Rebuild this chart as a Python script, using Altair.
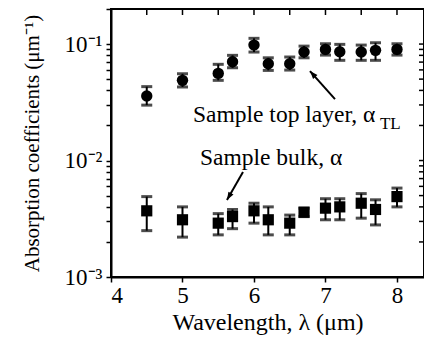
import altair as alt
import pandas as pd

# ---- data ----
wavelength = [4.5, 5.0, 5.5, 5.7, 6.0, 6.2, 6.5, 6.7, 7.0, 7.2, 7.5, 7.7, 8.0]

top_alpha = [0.0358, 0.0488, 0.0560, 0.0705, 0.0980, 0.0678, 0.0678, 0.0854, 0.0900, 0.0859, 0.0854, 0.0883, 0.0900]
top_low   = [0.0299, 0.0428, 0.0488, 0.0626, 0.0854, 0.0594, 0.0598, 0.0762, 0.0804, 0.0725, 0.0725, 0.0725, 0.0804]
top_high  = [0.0431, 0.0556, 0.0670, 0.0800, 0.1120, 0.0762, 0.0774, 0.0960, 0.1006, 0.0994, 0.0980, 0.1026, 0.1006]

bulk_alpha = [0.0037, 0.0031, 0.0029, 0.0033, 0.0037, 0.0031, 0.0029, 0.0036, 0.0039, 0.0040, 0.0043, 0.0038, 0.0049]
bulk_low   = [0.0025, 0.0022, 0.0023, 0.0026, 0.0029, 0.0023, 0.0023, 0.0033, 0.0031, 0.0031, 0.0032, 0.0028, 0.0040]
bulk_high  = [0.0049, 0.0040, 0.0035, 0.0038, 0.0043, 0.0040, 0.0034, 0.0039, 0.0047, 0.0047, 0.0052, 0.0046, 0.0058]

x_ticks = [4.0, 4.5, 5.0, 5.5, 6.0, 6.5, 7.0, 7.5, 8.0]
y_ticks = [m * 10.0 ** e for e in (-3, -2, -1) for m in range(1, 10) if m * 10.0 ** e <= 0.2]

# annotations: label text, anchor position
ann_text = ["Sample top layer, α", "Sample bulk, α"]
ann_x = [5.147, 5.245]
ann_y = [0.0214, 0.00915]
sub_text = ["TL"]
sub_x = [7.762]
sub_y = [0.0186]

# arrows: tail -> head
arr_x1 = [7.133, 5.846]
arr_y1 = [0.0337, 0.00796]
arr_x2 = [6.783, 5.622]
arr_y2 = [0.0586, 0.00458]
arr_angle = [318, 210]

FONT = "Liberation Serif"
W, H = 313, 268
XMAX = 8.378

top_df = pd.DataFrame({"x": wavelength, "y": top_alpha, "lo": top_low, "hi": top_high})
bulk_df = pd.DataFrame({"x": wavelength, "y": bulk_alpha, "lo": bulk_low, "hi": bulk_high})
ann_df = pd.DataFrame({"x": ann_x, "y": ann_y, "t": ann_text})
sub_df = pd.DataFrame({"x": sub_x, "y": sub_y, "t": sub_text})
arr_df = pd.DataFrame({"x": arr_x1, "y": arr_y1, "x2": arr_x2, "y2": arr_y2, "a": arr_angle})
xt_df = pd.DataFrame({"x": x_ticks[1:]})
yt_df = pd.DataFrame({"y": y_ticks})

xscale = alt.Scale(domain=[4, XMAX], nice=False, zero=False)
yscale = alt.Scale(type="log", domain=[0.001, 0.2], nice=False)

X = alt.X("x:Q", scale=xscale,
          axis=alt.Axis(title="Wavelength, λ (μm)", values=x_ticks,
                        labelExpr="datum.value % 1 == 0 ? datum.value : ''",
                        tickSize=5, labelPadding=2, titlePadding=3, titleFontSize=24,
                        labelFontSize=23, grid=False))
Y = alt.Y("y:Q", scale=yscale,
          axis=alt.Axis(title="Absorption coefficients (μm⁻¹)", values=y_ticks,
                        labelExpr="datum.value == 0.1 ? '10⁻¹' : datum.value == 0.01 ? '10⁻²' : datum.value == 0.001 ? '10⁻³' : ''",
                        tickSize=5, labelPadding=4, titlePadding=22, titleFontSize=21,
                        labelFontSize=23, grid=False))

def errs(df):
    base = alt.Chart(df)
    rule = base.mark_rule(color="black", strokeWidth=2).encode(
        x=alt.X("x:Q", scale=xscale), y=alt.Y("lo:Q", scale=yscale), y2="hi:Q")
    cap_lo = base.mark_tick(color="black", orient="horizontal", size=11, thickness=3).encode(
        x=alt.X("x:Q", scale=xscale), y=alt.Y("lo:Q", scale=yscale))
    cap_hi = base.mark_tick(color="black", orient="horizontal", size=11, thickness=3).encode(
        x=alt.X("x:Q", scale=xscale), y=alt.Y("hi:Q", scale=yscale))
    return rule + cap_lo + cap_hi

top_pts = alt.Chart(top_df).mark_point(shape="circle", filled=True, color="black", size=130, opacity=1).encode(x=X, y=Y)
bulk_pts = alt.Chart(bulk_df).mark_point(shape="square", filled=True, color="black", size=125, opacity=1).encode(
    x=alt.X("x:Q", scale=xscale), y=alt.Y("y:Q", scale=yscale))

ann = alt.Chart(ann_df).mark_text(font=FONT, fontSize=23.5, align="left", baseline="alphabetic", color="black").encode(
    x=alt.X("x:Q", scale=xscale), y=alt.Y("y:Q", scale=yscale), text="t:N")
sub = alt.Chart(sub_df).mark_text(font=FONT, fontSize=17, align="left", baseline="alphabetic", color="black").encode(
    x=alt.X("x:Q", scale=xscale), y=alt.Y("y:Q", scale=yscale), text="t:N")

arr_line = alt.Chart(arr_df).mark_rule(color="black", strokeWidth=2).encode(
    x=alt.X("x:Q", scale=xscale), y=alt.Y("y:Q", scale=yscale), x2="x2:Q", y2="y2:Q")
arr_head = alt.Chart(arr_df).mark_point(shape="M0,0L-0.7,1.9L0.7,1.9Z", filled=True, color="black", size=70, opacity=1).encode(
    x=alt.X("x2:Q", scale=xscale), y=alt.Y("y2:Q", scale=yscale), angle=alt.Angle("a:Q", scale=None))

top_ticks = alt.Chart(xt_df).mark_rule(color="black", strokeWidth=1.5).encode(
    x=alt.X("x:Q", scale=xscale), y=alt.value(0), y2=alt.value(6))
right_ticks = alt.Chart(yt_df).mark_rule(color="black", strokeWidth=1.5).encode(
    y=alt.Y("y:Q", scale=yscale), x=alt.value(W - 5), x2=alt.value(W))

chart = alt.layer(
    top_pts, errs(top_df), errs(bulk_df), bulk_pts, ann, sub, arr_line, arr_head, top_ticks, right_ticks
).properties(
    width=W, height=H,
    autosize=alt.AutoSizeParams(type="none"),
    padding={"left": 103, "top": 1, "right": 0, "bottom": 58},
    background="white",
).configure_view(
    stroke="black", strokeWidth=2
).configure_axis(
    labelFont=FONT, titleFont=FONT,
    titleFontWeight="normal", labelColor="black", titleColor="black",
    domainColor="black", domainWidth=2, tickColor="black", tickWidth=1.5,
)

chart.save("out.html", embed_options={"renderer": "svg", "actions": False})
